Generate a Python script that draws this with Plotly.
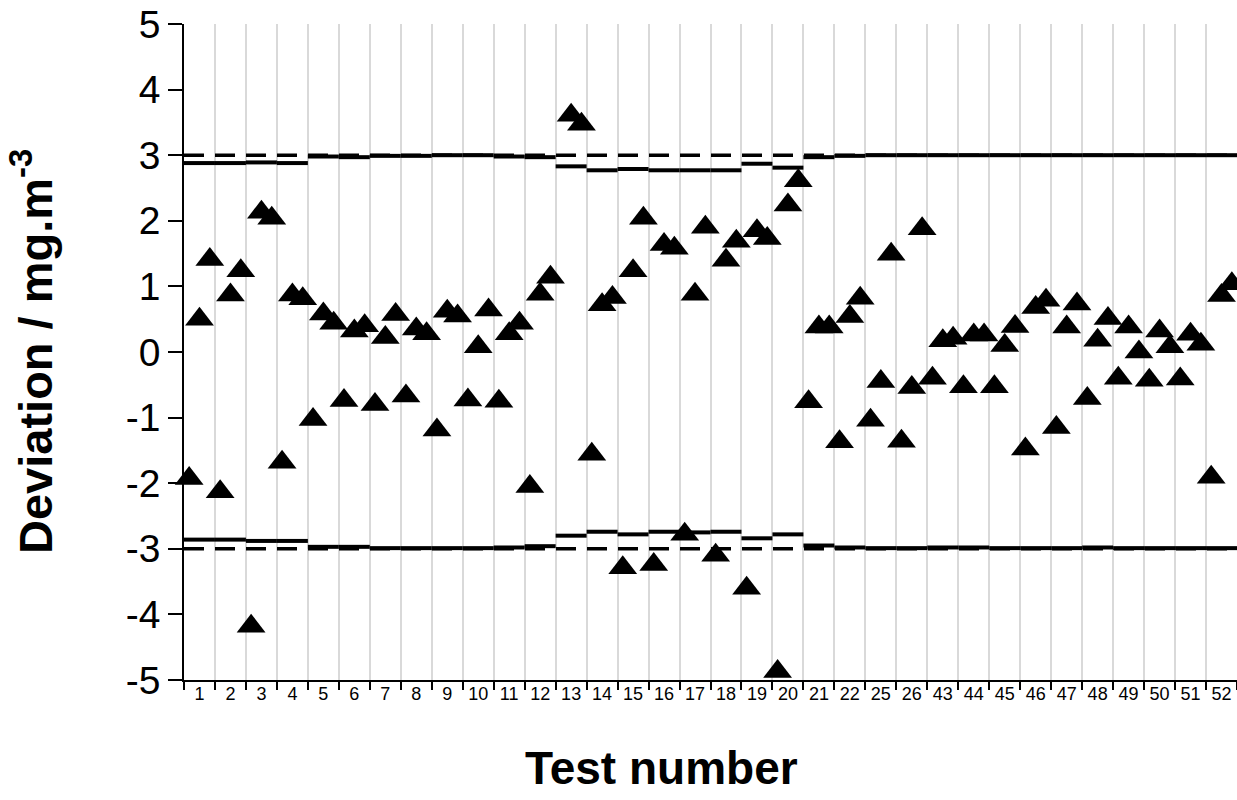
import plotly.graph_objects as go

# Test numbers shown along the x axis
tests = ["1", "2", "3", "4", "5", "6", "7", "8", "9", "10", "11", "12", "13",
         "14", "15", "16", "17", "18", "19", "20", "21", "22", "25", "26",
         "43", "44", "45", "46", "47", "48", "49", "50", "51", "52"]

# Deviation of the three measurements made in each test (mg.m-3)
dev_a = [-1.93, -2.13, -4.18, -1.68, -1.03, -0.74, -0.80, -0.67, -1.19, -0.73,
         -0.75, -2.05, None, -1.56, -3.29, -3.24, -2.78, -3.10, -3.60, -4.87,
         -0.76, -1.37, -1.04, -1.36, -0.40, -0.53, -0.53, -1.48, -1.15, -0.71,
         -0.40, -0.43, -0.41, -1.91]
dev_b = [0.50, 0.87, 2.13, 0.87, 0.58, 0.32, 0.22, 0.35, 0.62, 0.08,
         0.28, 0.88, 3.61, 0.72, 1.24, 1.64, 0.88, 1.40, 1.85, 2.24,
         0.38, 0.54, -0.45, -0.54, 0.17, 0.26, 0.10, 0.68, 0.38, 0.18,
         0.38, 0.32, 0.27, 0.86]
dev_c = [1.41, 1.24, 2.04, 0.81, 0.44, 0.40, 0.57, 0.28, 0.55, 0.64,
         0.44, 1.14, 3.47, 0.83, 2.04, 1.58, 1.90, 1.69, 1.73, 2.61,
         0.38, 0.82, 1.49, 1.88, 0.21, 0.26, 0.39, 0.79, 0.73, 0.51,
         0.00, 0.08, 0.12, 1.04]

# Per-test acceptance limits
limit_upper = [2.88, 2.88, 2.89, 2.88, 2.98, 2.97, 2.99, 2.99, 3.00, 3.00,
               2.98, 2.97, 2.83, 2.77, 2.79, 2.77, 2.77, 2.77, 2.87, 2.81,
               2.97, 2.99, 3.00, 3.00, 3.00, 3.00, 3.00, 3.00, 3.00, 3.00,
               3.00, 3.00, 3.00, 3.00]
limit_lower = [-2.86, -2.86, -2.88, -2.88, -2.97, -2.97, -2.99, -2.99, -2.99, -2.99,
               -2.98, -2.96, -2.80, -2.74, -2.78, -2.74, -2.75, -2.74, -2.84, -2.78,
               -2.95, -2.98, -2.99, -2.99, -2.98, -2.98, -2.99, -2.99, -2.99, -2.98,
               -2.99, -2.99, -2.99, -2.99]

# Nominal limit
nominal_limit = 3.0

# Y axis ticks, written with a plain hyphen for negatives
y_ticks = [-5, -4, -3, -2, -1, 0, 1, 2, 3, 4, 5]
y_tick_text = [str(v) for v in y_ticks]

n = len(tests)
FONT = "Liberation Sans, Arial, sans-serif"

fig = go.Figure()

# Stepped per-test limit lines: one horizontal segment per test
for lim in (limit_upper, limit_lower):
    xs, ys = [], []
    for i, v in enumerate(lim):
        xs += [i, i + 1, None]
        ys += [v, v, None]
    fig.add_trace(go.Scatter(x=xs, y=ys, mode="lines",
                             line=dict(color="black", width=4),
                             hoverinfo="skip", showlegend=False))

# Nominal +/- limit as dashed lines
for sign in (1, -1):
    fig.add_trace(go.Scatter(x=[0, n], y=[sign * nominal_limit] * 2, mode="lines",
                             line=dict(color="black", width=3.5, dash="20px,11px"),
                             hoverinfo="skip", showlegend=False))

# Three measurements per test, spread across the test's slot
xs, ys = [], []
for i in range(n):
    for j, series in enumerate((dev_a, dev_b, dev_c)):
        xs.append(i + (j + 0.5) / 3)
        ys.append(series[i])
fig.add_trace(go.Scatter(x=xs, y=ys, mode="markers",
                         marker=dict(symbol="triangle-up", size=25, color="black"),
                         cliponaxis=False, showlegend=False))

fig.update_layout(
    width=1237, height=800,
    margin=dict(l=184, r=0, t=24, b=120),
    plot_bgcolor="white", paper_bgcolor="white",
    font=dict(family=FONT, color="black"),
    showlegend=False,
    xaxis=dict(
        range=[0, n],
        tickmode="array",
        tickvals=[i + 0.5 for i in range(n)],
        ticktext=tests,
        ticks="",
        ticklabelstandoff=-3,
        tickfont=dict(size=18, family=FONT),
        showgrid=False, zeroline=False,
        showline=True, linecolor="black", linewidth=1.5,
        minor=dict(tickmode="linear", tick0=0, dtick=1,
                   ticks="outside", ticklen=8, tickwidth=1.5, tickcolor="black",
                   showgrid=True, gridcolor="#d9d9d9", gridwidth=1.5),
    ),
    yaxis=dict(
        range=[-5, 5],
        tickmode="array", tickvals=y_ticks, ticktext=y_tick_text,
        ticks="outside", ticklen=14, tickwidth=1.5, tickcolor="black",
        tickfont=dict(size=39, family=FONT),
        showgrid=False, zeroline=False,
        showline=True, linecolor="black", linewidth=1.5,
    ),
    annotations=[
        dict(text="<b>Test number</b>", xref="paper", yref="paper",
             x=(661 - 184) / 1053, y=(680 - 768) / 656,
             xanchor="center", yanchor="middle", showarrow=False,
             font=dict(size=46, family=FONT, color="black"), textangle=0),
        dict(text="<b>Deviation / mg.m<sup>-3</sup></b>", xref="paper", yref="paper",
             x=(32 - 184) / 1053, y=(680 - 352) / 656,
             xanchor="center", yanchor="middle", showarrow=False,
             font=dict(size=47, family=FONT, color="black"), textangle=-90),
    ],
)

fig.write_html("out.html")
